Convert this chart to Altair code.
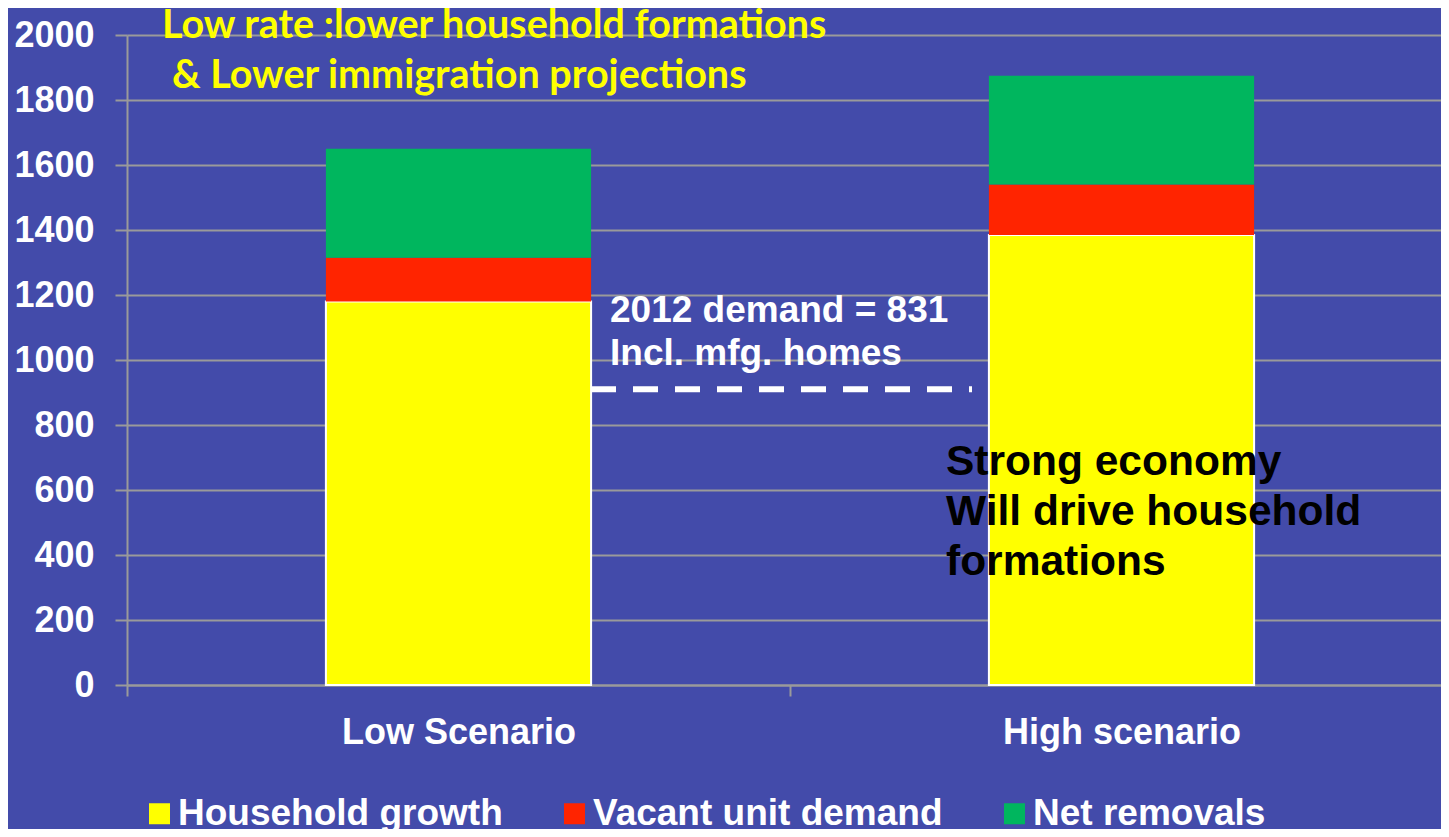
import altair as alt
import pandas as pd

scenarios = ["Low Scenario", "High scenario"]
series = ["Household growth", "Vacant unit demand", "Net removals"]
household_growth = [1180, 1385]
vacant_unit_demand = [135, 155]
net_removals = [335, 335]
series_colors = ["#FFFF00", "#FF2400", "#00B65E"]
y_ticks = [0, 200, 400, 600, 800, 1000, 1200, 1400, 1600, 1800, 2000]
demand_line_level = [910]

title_line1 = "Low rate :lower household formations"
title_line2 = "& Lower immigration projections"
demand_lines = ["2012 demand = 831", "Incl. mfg. homes"]
economy_lines = ["Strong economy", "Will drive household", "formations"]

rows = []
for i, sc in enumerate(scenarios):
    for k, (name, vals) in enumerate(zip(series, [household_growth, vacant_unit_demand, net_removals])):
        rows.append({"scenario": sc, "series": name, "value": vals[i], "order": k})
df = pd.DataFrame(rows)

BG = "#434BAA"
GRID = "#9A9A9A"
FONT = "Liberation Sans"

bars = alt.Chart(df).mark_bar(strokeWidth=2).encode(
    x=alt.X(
        "scenario:N",
        sort=scenarios,
        scale=alt.Scale(paddingInner=0.6, paddingOuter=0.3, range=[0, 1326]),
        axis=alt.Axis(
            title=None, labelAngle=0, labelFont=FONT, labelFontSize=36,
            labelFontWeight="bold", labelColor="white", labelPadding=19,
            labelLimit=1000, labelOffset=331.5,
            tickSize=11, tickColor=GRID, tickWidth=2, tickOffset=-331.5,
            domainColor=GRID, domainWidth=2, grid=False,
        ),
    ),
    y=alt.Y(
        "value:Q",
        stack="zero",
        scale=alt.Scale(domain=[0, 2000], nice=False),
        axis=alt.Axis(
            title=None, values=y_ticks, format="d", labelFont=FONT, labelFontSize=36,
            labelFontWeight="bold", labelColor="white", labelPadding=21,
            tickSize=12, tickColor=GRID, tickWidth=2, domainColor=GRID,
            domainWidth=2, grid=True, gridColor=GRID, gridWidth=2,
        ),
    ),
    fill=alt.Fill(
        "series:N",
        sort=series,
        scale=alt.Scale(domain=series, range=series_colors),
        legend=alt.Legend(
            title=None, orient="none", legendX=14, legendY=760,
            direction="horizontal", symbolType="square", symbolSize=441,
            symbolStrokeWidth=0, labelFont=FONT, labelFontSize=37,
            labelFontWeight="bold", labelColor="white", labelLimit=1000,
            labelOffset=0, columnPadding=53, padding=0,
        ),
    ),
    stroke=alt.condition("datum.series == 'Household growth'", alt.value("white"), alt.value("transparent")),
    order=alt.Order("order:Q"),
)

rule = alt.Chart(pd.DataFrame({"level": demand_line_level})).mark_rule(
    color="white", strokeWidth=6, strokeDash=[25, 17]
).encode(
    y=alt.Y("level:Q"),
    x=alt.value(464),
    x2=alt.value(845),
)

one = pd.DataFrame({"a": [0]})

title_txt1 = alt.Chart(one).mark_text(
    text=title_line1, font="Lato", fontWeight="bold", fontSize=39.5,
    color="#FFFF00", align="left", baseline="alphabetic",
).encode(x=alt.value(35), y=alt.value(3))

title_txt2 = alt.Chart(one).mark_text(
    text=title_line2, font="Lato", fontWeight="bold", fontSize=39.5,
    color="#FFFF00", align="left", baseline="alphabetic",
).encode(x=alt.value(45), y=alt.value(53))

demand_txt = alt.Chart(one).mark_text(
    text=demand_lines, font=FONT, fontWeight="bold", fontSize=37,
    color="white", align="left", baseline="alphabetic", lineHeight=43,
).encode(x=alt.value(483), y=alt.value(287))

economy_txt = alt.Chart(one).mark_text(
    text=economy_lines, font=FONT, fontWeight="bold", fontSize=42.5,
    color="black", align="left", baseline="alphabetic", lineHeight=50,
).encode(x=alt.value(819), y=alt.value(440))

chart = alt.layer(bars, rule, title_txt1, title_txt2, demand_txt, economy_txt).properties(
    width=1314,
    height=650,
    background=BG,
    padding={"left": 119, "top": 27, "right": 0, "bottom": 144},
    autosize=alt.AutoSizeParams(type="none"),
).configure_view(stroke=None)

chart.save("out.html", embed_options={"renderer": "svg", "actions": False})
